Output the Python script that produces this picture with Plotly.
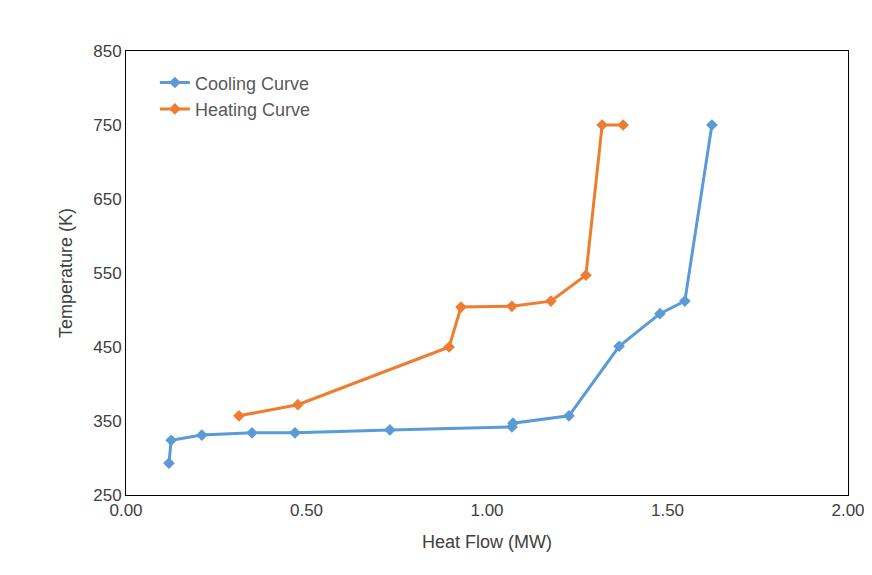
import plotly.graph_objects as go

cool_x = [0.119, 0.125, 0.21, 0.349, 0.468, 0.731, 1.069, 1.072, 1.227, 1.366, 1.479, 1.548, 1.623]
cool_y = [293, 324, 331, 334, 334, 338, 342, 347, 357, 451, 495, 512, 750]
heat_x = [0.313, 0.476, 0.895, 0.928, 1.069, 1.177, 1.274, 1.319, 1.377]
heat_y = [357, 372, 450, 504, 505, 512, 547, 750, 750]

fig = go.Figure()
fig.add_trace(go.Scatter(x=cool_x, y=cool_y, mode='lines+markers', name='Cooling Curve',
                         line=dict(color='#5B9BD5', width=3),
                         marker=dict(symbol='diamond', size=9, color='#5B9BD5')))
fig.add_trace(go.Scatter(x=heat_x, y=heat_y, mode='lines+markers', name='Heating Curve',
                         line=dict(color='#ED7D31', width=3),
                         marker=dict(symbol='diamond', size=9, color='#ED7D31')))

axis_font = dict(family='Liberation Sans, Arial', size=17, color='#404040')
fig.update_layout(
    width=872, height=575,
    paper_bgcolor='white', plot_bgcolor='white',
    margin=dict(l=118, r=32, t=43, b=88, autoexpand=False),
    font=dict(family='Liberation Sans, Arial', color='#595959'),
    legend=dict(x=0.04, y=0.97, xanchor='left', yanchor='top',
                font=dict(size=18, color='#595959'), bgcolor='rgba(0,0,0,0)'),
    xaxis=dict(range=[0, 2], dtick=0.5, tickformat='.2f', tickfont=axis_font,
               title=dict(text='Heat Flow (MW)', font=dict(size=18, color='#404040')),
               showgrid=False, zeroline=False, showline=True, linecolor='black',
               mirror=True, ticks='', automargin=False),
    yaxis=dict(range=[250, 850], tick0=250, dtick=100, tickfont=axis_font,
               title=dict(text='Temperature (K)', font=dict(size=18, color='#404040')),
               showgrid=False, zeroline=False, showline=True, linecolor='black',
               mirror=True, ticks='', automargin=False),
)

fig.write_html("out.html")
